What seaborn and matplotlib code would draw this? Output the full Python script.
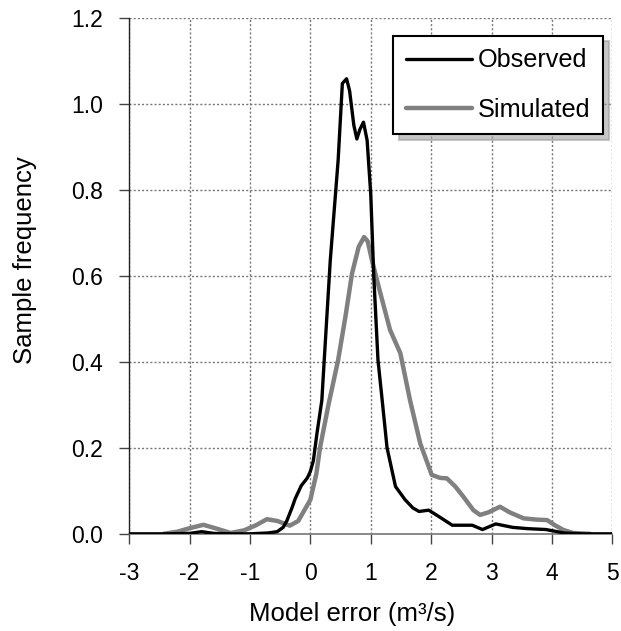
import matplotlib
matplotlib.use("Agg")
import matplotlib.pyplot as plt
import seaborn as sns
import pandas as pd

obs_x = [-3, -2.4, -2.0, -1.8, -1.6, -1.3, -1.0, -0.7, -0.55, -0.45, -0.39, -0.3, -0.25, -0.15,
         -0.05, 0.0, 0.05, 0.11, 0.19, 0.23, 0.33, 0.46, 0.53, 0.6, 0.65, 0.72, 0.77, 0.82, 0.88,
         0.94, 1.0, 1.05, 1.12, 1.19, 1.27, 1.41, 1.57, 1.7, 1.8, 1.96, 2.13, 2.35, 2.5, 2.68,
         2.85, 3.07, 3.35, 3.6, 3.9, 4.2, 4.5, 5.0]
obs_y = [0, 0, 0.001, 0.005, 0.001, 0, 0, 0.002, 0.005, 0.015, 0.03, 0.062, 0.082, 0.112,
         0.13, 0.145, 0.17, 0.234, 0.31, 0.404, 0.636, 0.868, 1.047, 1.058, 1.03, 0.95, 0.918,
         0.94, 0.957, 0.915, 0.79, 0.6, 0.404, 0.31, 0.2, 0.11, 0.079, 0.06, 0.052, 0.055, 0.04,
         0.02, 0.02, 0.02, 0.01, 0.023, 0.015, 0.012, 0.01, 0.002, 0, 0]

sim_x = [-2.43, -2.2, -2.0, -1.77, -1.55, -1.32, -1.1, -0.9, -0.72, -0.55, -0.34, -0.2, 0.0,
         0.1, 0.16, 0.3, 0.46, 0.58, 0.69, 0.8, 0.89, 0.95, 1.02, 1.16, 1.32, 1.49, 1.65, 1.82,
         2.01, 2.15, 2.26, 2.4, 2.53, 2.7, 2.81, 2.95, 3.14, 3.3, 3.53, 3.75, 3.92, 4.05, 4.19,
         4.35, 4.63]
sim_y = [0, 0.005, 0.013, 0.021, 0.012, 0.002, 0.008, 0.02, 0.034, 0.03, 0.019, 0.03, 0.079,
         0.14, 0.2, 0.3, 0.404, 0.504, 0.605, 0.667, 0.69, 0.68, 0.636, 0.559, 0.474, 0.42,
         0.311, 0.21, 0.137, 0.13, 0.129, 0.11, 0.087, 0.055, 0.044, 0.05, 0.063, 0.05, 0.036,
         0.033, 0.032, 0.02, 0.009, 0.002, 0]

series_names = ["Observed", "Simulated"]
x_ticks = [-3, -2, -1, 0, 1, 2, 3, 4, 5]
y_ticks = [0.0, 0.2, 0.4, 0.6, 0.8, 1.0, 1.2]

df = pd.concat([
    pd.DataFrame({"x": obs_x, "y": obs_y, "series": series_names[0]}),
    pd.DataFrame({"x": sim_x, "y": sim_y, "series": series_names[1]}),
], ignore_index=True)

sns.set_style("white")
plt.rcParams["font.family"] = ["Liberation Sans", "DejaVu Sans"]
plt.rcParams["text.color"] = "black"
plt.rcParams["axes.labelcolor"] = "black"
plt.rcParams["xtick.color"] = "black"
plt.rcParams["ytick.color"] = "black"

fig = plt.figure(figsize=(6.21, 6.31), dpi=100)
ax = fig.add_axes([0.208, 0.154, 0.778, 0.818])

palette = {"Observed": "black", "Simulated": "#808080"}
sns.lineplot(data=df[df.series == "Observed"], x="x", y="y", color=palette["Observed"],
             linewidth=2.4, sort=False, ax=ax, label="Observed", zorder=4)
sns.lineplot(data=df[df.series == "Simulated"], x="x", y="y", color=palette["Simulated"],
             linewidth=3.2, sort=False, ax=ax, label="Simulated", zorder=3)

ax.set_xlim(-3, 5)
ax.set_ylim(0, 1.2)
ax.set_xticks(x_ticks)
ax.set_xticklabels([str(t) for t in x_ticks])
ax.set_yticks(y_ticks)
ax.set_yticklabels([f"{t:.1f}" for t in y_ticks])
ax.tick_params(axis="both", labelsize=16.5, direction="out", length=7, width=1,
               color="#444444", labelcolor="black", bottom=True, left=True)
ax.tick_params(axis="y", pad=12)
ax.tick_params(axis="x", pad=13)

ax.grid(True, which="major", linestyle=(0, (1.5, 1.5)), color="#777777", linewidth=1)
ax.set_axisbelow(True)
for s in ["top", "right"]:
    ax.spines[s].set_visible(False)
ax.spines["left"].set_color("#222222")
ax.spines["bottom"].set_color("#777777")
ax.spines["left"].set_linewidth(1)
ax.spines["bottom"].set_linewidth(1.2)

ax.set_xlabel("Model error (m³/s)", fontsize=18.5, color="black")
ax.set_ylabel("Sample frequency", fontsize=18.5, color="black")
ax.xaxis.set_label_coords(0.462, -0.132)
ax.yaxis.set_label_coords(-0.19, 0.531)

leg = ax.legend(loc="upper right", bbox_to_anchor=(0.981, 0.965), borderaxespad=0,
                fontsize=18.2, frameon=True, fancybox=False, edgecolor="black",
                shadow={"color": "0.6", "alpha": 0.55, "ox": 4, "oy": -4},
                handlelength=2.6, handletextpad=0.25, labelspacing=1.0,
                borderpad=0.5)
leg.get_frame().set_linewidth(1.5)
leg.get_frame().set_facecolor("white")

fig.savefig("out.png", dpi=100)
